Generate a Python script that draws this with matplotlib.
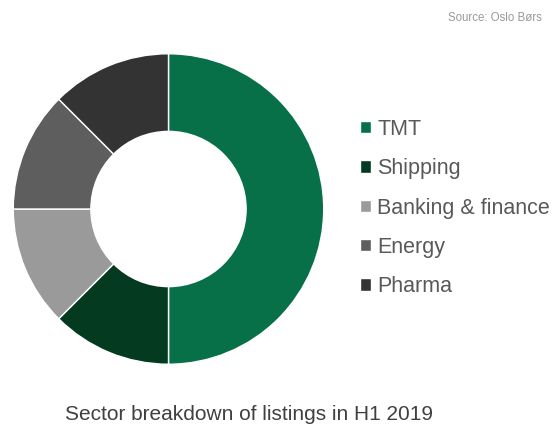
import matplotlib.pyplot as plt

plt.rcParams['font.family'] = ['Liberation Sans', 'DejaVu Sans']

sectors = ['TMT', 'Shipping', 'Banking & finance', 'Energy', 'Pharma']
listings = [4, 1, 1, 1, 1]
colors = ['#087048', '#043a20', '#9a9a9a', '#5e5e5e', '#333333']

fig = plt.figure(figsize=(5.53, 4.25), dpi=100)
ax = fig.add_axes([12 / 553, 1 - 365 / 425, 313 / 553, 312 / 425])

wedges, _ = ax.pie(listings, colors=colors, startangle=90, counterclock=False,
                   radius=1.0, wedgeprops=dict(width=0.5, edgecolor='white', linewidth=1))
ax.set_xlim(-1.005, 1.005)
ax.set_ylim(-1.005, 1.005)
ax.set_aspect('equal')
ax.axis('off')

leg = fig.legend(wedges, sectors, loc='center left', bbox_to_anchor=(360 / 553, 1 - 208 / 425),
                 frameon=False, fontsize=15.5, handlelength=0.5, handleheight=0.5,
                 handletextpad=0.3, labelspacing=0.85, borderaxespad=0, borderpad=0)
for t in leg.get_texts():
    t.set_color('#595959')

fig.text(542 / 553, 1 - 18 / 425, 'Source: Oslo Børs', ha='right', va='center',
         fontsize=8.3, color='#999999')
fig.text(65 / 553, 1 - 414 / 425, 'Sector breakdown of listings in H1 2019', ha='left',
         va='center', fontsize=15, color='#404040')

fig.savefig('out.png', dpi=100)
